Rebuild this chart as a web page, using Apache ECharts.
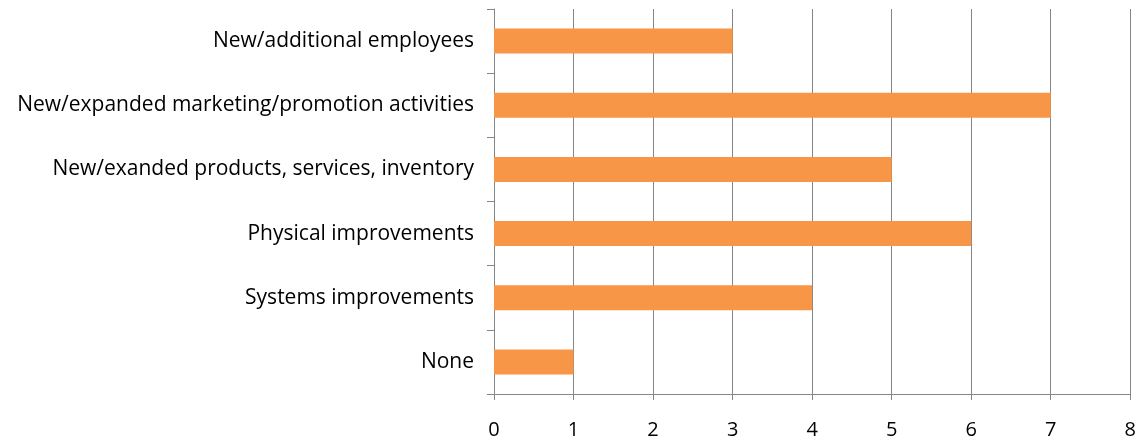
<!DOCTYPE html>
<html>
<head>
<meta charset="utf-8">
<script src="https://cdn.jsdelivr.net/npm/echarts@6/dist/echarts.min.js"></script>
<style>
  html, body { margin: 0; padding: 0; background: #fff; }
  #chart { width: 1139px; height: 440px; }
</style>
</head>
<body>
<div id="chart"></div>
<script>
// Investment categories, listed top to bottom
const categories = [
  'New/additional employees',
  'New/expanded marketing/promotion activities',
  'New/exanded products, services, inventory',
  'Physical improvements',
  'Systems improvements',
  'None'
];
// Number of responses per category
const counts = [3, 7, 5, 6, 4, 1];
// Value axis range
const xMin = 0;
const xMax = 8;
const xStep = 1;

const axisGray = '#868686';
const fontFamily = '"Open Sans", sans-serif';

const chart = echarts.init(document.getElementById('chart'), null, { renderer: 'canvas' });
chart.setOption({
  animation: false,
  backgroundColor: '#ffffff',
  grid: { left: 494, right: 7, top: 9, bottom: 46, containLabel: false },
  xAxis: {
    type: 'value',
    min: xMin,
    max: xMax,
    interval: xStep,
    axisLine: { show: true, lineStyle: { color: axisGray, width: 1 } },
    axisTick: { show: true, length: 6, lineStyle: { color: axisGray } },
    splitLine: { show: true, lineStyle: { color: axisGray, width: 1 } },
    axisLabel: { color: '#000', fontSize: 20, fontFamily: fontFamily, margin: 26 }
  },
  yAxis: {
    type: 'category',
    data: categories,
    inverse: true,
    axisLine: { show: true, lineStyle: { color: axisGray, width: 1 } },
    axisTick: { show: true, length: 7, alignWithLabel: false, lineStyle: { color: axisGray } },
    splitLine: { show: false },
    axisLabel: { color: '#000', fontSize: 21, fontFamily: fontFamily, margin: 20, padding: [6, 0, 0, 0] }
  },
  series: [{
    type: 'bar',
    data: counts,
    barWidth: '39%',
    itemStyle: { color: '#F79646' }
  }]
});
</script>
</body>
</html>
